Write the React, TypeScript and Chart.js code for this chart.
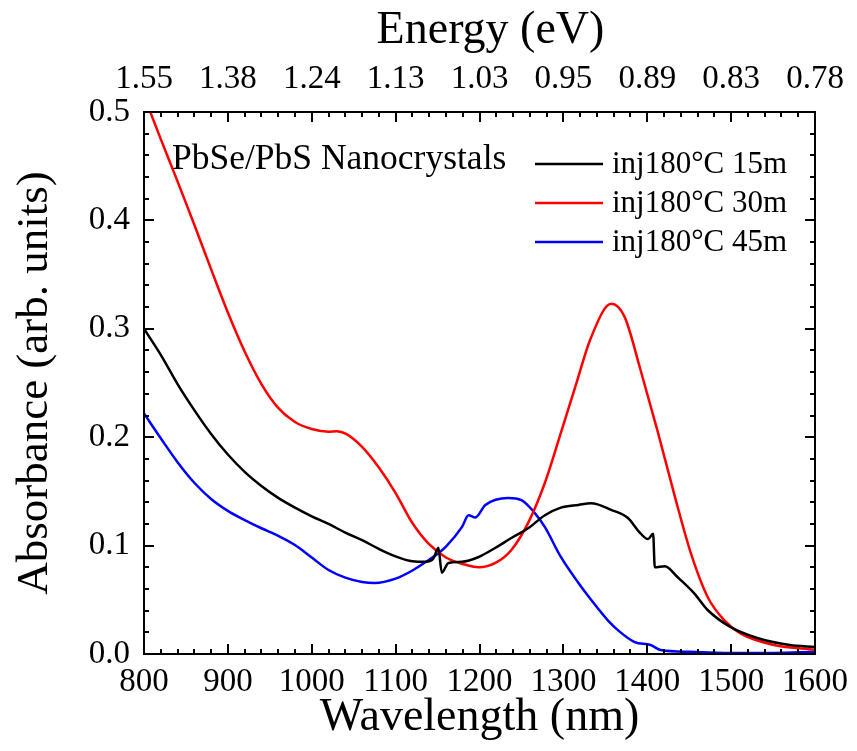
import React, { useEffect, useRef } from "react";
import { Chart, registerables } from "chart.js";

Chart.register(...registerables);

// ---- Data ----
const wavelength15 = [800, 820, 840, 860, 880, 900, 920, 940, 960, 980, 1000, 1020, 1040, 1060, 1080, 1100, 1120, 1136, 1145, 1151, 1155, 1163, 1179, 1199, 1219, 1238, 1258, 1278, 1297, 1318, 1333, 1357, 1377, 1390, 1401, 1407, 1409, 1421, 1436, 1456, 1472, 1499, 1531, 1570, 1600];
const absorbance15 = [0.300, 0.276, 0.249, 0.225, 0.203, 0.184, 0.168, 0.155, 0.144, 0.135, 0.127, 0.120, 0.112, 0.105, 0.097, 0.090, 0.0855, 0.085, 0.088, 0.098, 0.075, 0.084, 0.085, 0.0895, 0.098, 0.107, 0.116, 0.128, 0.135, 0.1375, 0.139, 0.133, 0.1255, 0.113, 0.106, 0.111, 0.080, 0.081, 0.071, 0.056, 0.0406, 0.025, 0.0148, 0.0083, 0.0065];

const wavelength30 = [800, 820, 840, 860, 880, 900, 920, 940, 960, 980, 1000, 1020, 1030, 1041, 1060, 1080, 1100, 1119, 1139, 1160, 1180, 1199, 1219, 1238, 1258, 1278, 1297, 1314, 1333, 1357, 1373, 1392, 1412, 1433, 1452, 1472, 1492, 1511, 1551, 1600];
const absorbance30 = [0.515, 0.475, 0.436, 0.396, 0.355, 0.315, 0.279, 0.249, 0.227, 0.214, 0.2075, 0.205, 0.2055, 0.203, 0.191, 0.172, 0.1485, 0.122, 0.102, 0.089, 0.083, 0.080, 0.084, 0.096, 0.121, 0.158, 0.204, 0.246, 0.292, 0.323, 0.311, 0.262, 0.2066, 0.145, 0.093, 0.0526, 0.031, 0.019, 0.0083, 0.004];

const wavelength45 = [800, 820, 840, 860, 880, 900, 920, 940, 960, 980, 1000, 1020, 1040, 1060, 1075, 1100, 1120, 1140, 1151, 1160, 1179, 1187, 1195, 1207, 1234, 1250, 1266, 1278, 1297, 1318, 1333, 1353, 1365, 1385, 1404, 1416, 1452, 1492, 1550, 1600];
const absorbance45 = [0.222, 0.199, 0.177, 0.158, 0.143, 0.132, 0.1235, 0.116, 0.109, 0.1005, 0.089, 0.0775, 0.0705, 0.0665, 0.0655, 0.0695, 0.077, 0.087, 0.093, 0.099, 0.117, 0.128, 0.126, 0.1375, 0.144, 0.142, 0.130, 0.117, 0.0895, 0.0655, 0.050, 0.031, 0.022, 0.011, 0.0083, 0.0037, 0.002, 0.001, 0.001, 0.002];

const seriesLabels = ["inj180°C 15m", "inj180°C 30m", "inj180°C 45m"];
const seriesColors = ["#000000", "#ff0000", "#0000ff"];
const annotationText = "PbSe/PbS Nanocrystals";
const xTitle = "Wavelength (nm)";
const topTitle = "Energy (eV)";
const yTitle = "Absorbance (arb. units)";

const xMin = 800;
const xMax = 1600;
const xMajor = 100;
const xMinor = 20;
const yMin = 0;
const yMax = 0.5;
const yMajor = 0.1;
const yMinor = 0.02;

const FONT = "'Liberation Serif', 'Times New Roman', serif";

function toPoints(xs: number[], ys: number[]) {
  return xs.map((x, i) => ({ x, y: ys[i] }));
}

const framePlugin = {
  id: "frameTicksLegend",
  afterDatasetsDraw(chart: any) {
    const { ctx, chartArea, scales } = chart;
    const { left, right, top, bottom } = chartArea;
    ctx.save();
    ctx.strokeStyle = "#000";
    ctx.lineWidth = 2;
    ctx.lineCap = "butt";
    // inward ticks, x
    const nx = Math.round((xMax - xMin) / xMinor);
    for (let i = 0; i <= nx; i++) {
      const v = xMin + i * xMinor;
      const major = Math.abs((v - xMin) % xMajor) < 1e-6;
      const len = major ? 10 : 5;
      const x = Math.round(scales.x.getPixelForValue(v));
      ctx.beginPath();
      ctx.moveTo(x, bottom);
      ctx.lineTo(x, bottom - len);
      ctx.moveTo(x, top);
      ctx.lineTo(x, top + len);
      ctx.stroke();
    }
    // inward ticks, y
    const ny = Math.round((yMax - yMin) / yMinor);
    for (let i = 0; i <= ny; i++) {
      const v = yMin + i * yMinor;
      const major = i % Math.round(yMajor / yMinor) === 0;
      const len = major ? 10 : 5;
      const y = Math.round(scales.y.getPixelForValue(v));
      ctx.beginPath();
      ctx.moveTo(left, y);
      ctx.lineTo(left + len, y);
      ctx.moveTo(right, y);
      ctx.lineTo(right - len, y);
      ctx.stroke();
    }
    // frame
    ctx.strokeRect(left, top, right - left, bottom - top);

    // annotation
    ctx.fillStyle = "#000";
    ctx.font = `35.5px ${FONT}`;
    ctx.textAlign = "left";
    ctx.textBaseline = "alphabetic";
    ctx.fillText(annotationText, left + 28, top + 57);

    // legend
    ctx.font = `31px ${FONT}`;
    ctx.textBaseline = "middle";
    chart.data.datasets.forEach((ds: any, i: number) => {
      const y = top + 52 + i * 39;
      ctx.strokeStyle = ds.borderColor;
      ctx.lineWidth = 2.5;
      ctx.beginPath();
      ctx.moveTo(left + 391, y);
      ctx.lineTo(left + 459, y);
      ctx.stroke();
      ctx.fillStyle = "#000";
      ctx.fillText(ds.label, left + 468, y + 1);
    });

    // top title (slightly right of centre as in reference)
    ctx.font = `46px ${FONT}`;
    ctx.textAlign = "center";
    ctx.textBaseline = "middle";
    ctx.fillStyle = "#000";
    ctx.fillText(topTitle, (left + right) / 2 + 11, 31);
    ctx.restore();
  },
};

export default function App() {
  const canvasRef = useRef<HTMLCanvasElement | null>(null);

  useEffect(() => {
    const canvas = canvasRef.current;
    if (!canvas) return;
    const tickFont = { family: FONT, size: 33 };
    const chart = new Chart(canvas, {
      type: "line",
      data: {
        datasets: [
          { label: seriesLabels[0], data: toPoints(wavelength15, absorbance15), borderColor: seriesColors[0] },
          { label: seriesLabels[1], data: toPoints(wavelength30, absorbance30), borderColor: seriesColors[1] },
          { label: seriesLabels[2], data: toPoints(wavelength45, absorbance45), borderColor: seriesColors[2] },
        ].map((d) => ({
          ...d,
          borderWidth: 2.5,
          pointRadius: 0,
          fill: false,
          cubicInterpolationMode: "monotone" as const,
        })),
      },
      options: {
        responsive: false,
        animation: false,
        events: [],
        layout: { padding: 0 },
        plugins: {
          legend: { display: false },
          tooltip: { enabled: false },
        },
        scales: {
          x: {
            type: "linear",
            position: "bottom",
            min: xMin,
            max: xMax,
            grid: { display: false, drawTicks: false },
            border: { display: false },
            ticks: {
              stepSize: xMajor,
              autoSkip: false,
              maxRotation: 0,
              padding: 9,
              color: "#000",
              font: tickFont,
              callback: (v: any) => String(v),
            },
            title: {
              display: true,
              text: xTitle,
              color: "#000",
              font: { family: FONT, size: 46 },
              padding: { top: 0, bottom: 5 },
            },
            afterFit: (s: any) => {
              s.height = 97;
            },
          },
          x2: {
            type: "linear",
            position: "top",
            min: xMin,
            max: xMax,
            grid: { display: false, drawTicks: false },
            border: { display: false },
            ticks: {
              stepSize: xMajor,
              autoSkip: false,
              maxRotation: 0,
              padding: 13,
              color: "#000",
              font: tickFont,
              callback: (v: any) => (1240 / Number(v)).toFixed(2),
            },
            afterFit: (s: any) => {
              s.height = 112;
            },
          },
          y: {
            type: "linear",
            position: "left",
            min: yMin,
            max: yMax,
            grid: { display: false, drawTicks: false },
            border: { display: false },
            ticks: {
              stepSize: yMajor,
              padding: 14,
              color: "#000",
              font: tickFont,
              callback: (v: any) => Number(v).toFixed(1),
            },
            title: {
              display: true,
              text: yTitle,
              color: "#000",
              font: { family: FONT, size: 45 },
              padding: { top: 8, bottom: 0 },
            },
            afterFit: (s: any) => {
              s.width = 144;
            },
          },
          y2: {
            type: "linear",
            position: "right",
            min: yMin,
            max: yMax,
            grid: { display: false, drawTicks: false },
            border: { display: false },
            ticks: { display: false },
            afterFit: (s: any) => {
              s.width = 39;
            },
          },
        },
      },
      plugins: [framePlugin],
    });
    return () => chart.destroy();
  }, []);

  return (
    <div style={{ position: "absolute", left: 0, top: 0, width: 857, height: 751, background: "#fff" }}>
      <canvas ref={canvasRef} width={857} height={751} style={{ display: "block" }} />
    </div>
  );
}
